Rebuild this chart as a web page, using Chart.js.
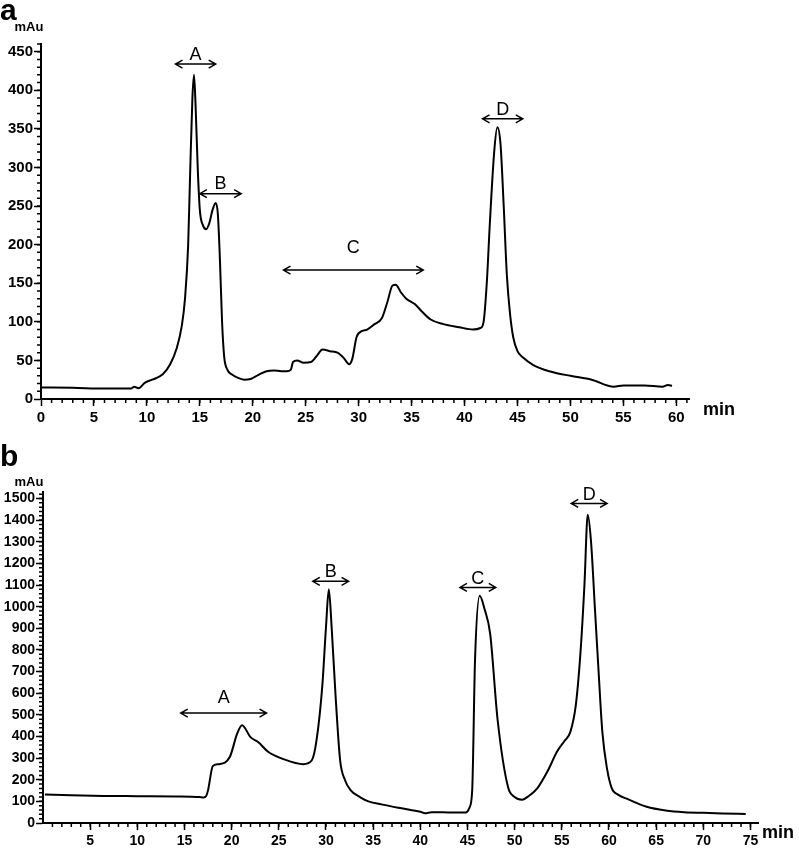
<!DOCTYPE html>
<html>
<head>
<meta charset="utf-8">
<script src="https://cdn.jsdelivr.net/npm/chart.js@4.4.0/dist/chart.umd.min.js"></script>
<style>
  body { margin: 0; background: #fff; }
  .panel { position: absolute; left: 0; width: 799px; }
  #panelA { top: 0; height: 430px; }
  #panelB { top: 430px; height: 421px; }
</style>
</head>
<body>
<div class="panel" id="panelA"><canvas id="chartA"></canvas></div>
<div class="panel" id="panelB"><canvas id="chartB"></canvas></div>
<script>
// Panel a - retention time (min) vs absorbance (mAu)
const timeA = [0, 3, 6, 8.5, 8.8, 9.2, 9.8, 10.5, 11.5, 12.2, 12.8, 13.3, 13.6, 13.9, 14.1, 14.3, 14.45,
    14.6, 14.8, 15.0, 15.3, 15.6, 15.9, 16.2, 16.5, 16.7, 16.9, 17.1, 17.3, 17.6, 18.0, 18.5, 19.2,
    19.8, 20.5, 21.3, 22.0, 22.7, 23.2, 23.6, 23.8, 24.2, 24.8, 25.5, 26.0, 26.6, 27.3, 28.0, 28.6,
    29.1, 29.4, 29.8, 30.3, 30.8, 31.5, 32.2, 32.7, 33.2, 33.5, 34.0, 34.5, 35.3, 36.0, 36.8, 38.0,
    39.5, 40.8, 41.5, 41.8, 42.1, 42.4, 42.8, 43.1, 43.4, 43.7, 44.0, 44.3, 44.6, 45.0, 45.5, 46.5,
    48.0, 50.0, 52.0, 54.1, 55.0, 57.0, 58.7, 59.2, 59.6];
const mauA = [15, 14.5, 13.5, 13.5, 16, 14, 21, 25, 32, 45, 65, 95, 130, 200, 300, 390, 420,
    380, 300, 245, 225, 220, 228, 245, 254, 240, 180, 100, 55, 38, 32, 28, 25,
    26, 31, 36, 37, 36, 36, 38, 48, 50, 47, 48, 55, 64, 62, 60, 53,
    45, 52, 80, 88, 90, 97, 105, 125, 147, 148, 138, 130, 123, 113, 103, 97,
    93, 90, 92, 100, 150, 230, 320, 352, 330, 250, 160, 110, 80, 62, 54, 44,
    36, 30, 25, 16, 17.5, 17.5, 16, 18, 17];
const xTicksA = [0, 5, 10, 15, 20, 25, 30, 35, 40, 45, 50, 55, 60];
const yTicksA = [0, 50, 100, 150, 200, 250, 300, 350, 400, 450];
const peakNamesA = ['A', 'B', 'C', 'D'];
const peakRangesA = [[12.7, 16.5], [15.0, 18.9], [22.9, 36.1], [41.7, 45.5]];
const peakArrowA = [434, 266, 167, 363];
const peakTextA = [446, 278, 196, 375];

// Panel b
const timeB = [0.2, 3, 6.4, 10, 14, 16.6, 17.0, 17.3, 17.5, 18.0, 18.6, 19.8, 20.6, 21.1, 22.0, 22.8,
    23.9, 25.5, 27.6, 28.5, 29.0, 29.6, 30.0, 30.3, 30.6, 31.0, 31.5, 32.0, 32.6, 33.6, 34.5, 36.0,
    38.0, 40.0, 40.5, 41.2, 43.0, 44.8, 45.2, 45.5, 45.8, 46.3, 46.8, 47.4, 48.2, 49.3, 50.0, 50.8,
    51.5, 52.4, 53.5, 54.5, 55.3, 55.9, 56.5, 57.0, 57.4, 57.75, 58.1, 58.5, 58.9, 59.3, 59.8, 60.3,
    61.0, 62.0, 64.0, 66.0, 68.0, 70.0, 72.0, 74.5];
const mauB = [132, 128, 125, 124, 123, 120, 118, 125, 152, 263, 272, 305, 415, 452, 397, 374,
    328, 295, 272, 290, 383, 628, 905, 1080, 905, 600, 290, 200, 152, 120, 100, 85,
    68, 52, 45, 50, 49, 48, 70, 150, 752, 1050, 990, 877, 475, 166, 120, 108,
    125, 160, 240, 330, 380, 420, 550, 800, 1100, 1425, 1300, 1000, 700, 420, 250, 160,
    130, 110, 75, 58, 50, 47, 44, 42];
const xTicksB = [5, 10, 15, 20, 25, 30, 35, 40, 45, 50, 55, 60, 65, 70, 75];
const yTicksB = [0, 100, 200, 300, 400, 500, 600, 700, 800, 900, 1000, 1100, 1200, 1300, 1400, 1500];
const peakNamesB = ['A', 'B', 'C', 'D'];
const peakRangesB = [[14.6, 23.7], [28.6, 32.4], [44.2, 48.0], [56.0, 59.8]];
const peakArrowB = [508, 1117, 1089, 1477];
const peakTextB = [577, 1158, 1126, 1518];

const FONT = "'Liberation Sans', Arial, sans-serif";

// small ticks between the labelled ones
const minorTicks = {
    id: 'minorTicks',
    afterDraw(chart, args, opts) {
        const { ctx, scales: { x, y } } = chart;
        ctx.save();
        ctx.strokeStyle = '#000';
        ctx.lineWidth = 1.5;
        ctx.beginPath();
        for (let i = 1; i * opts.xStep <= x.max; i++) {
            const px = x.getPixelForValue(i * opts.xStep);
            ctx.moveTo(px, y.bottom);
            ctx.lineTo(px, y.bottom + 4);
        }
        for (let i = 1; i * opts.yStep <= y.max; i++) {
            const py = y.getPixelForValue(i * opts.yStep);
            ctx.moveTo(x.left, py);
            ctx.lineTo(x.left - 4, py);
        }
        ctx.stroke();
        ctx.restore();
    }
};

// double headed arrows with peak letters
const peakArrows = {
    id: 'peakArrows',
    afterDatasetsDraw(chart, args, opts) {
        const { ctx, scales: { x, y } } = chart;
        ctx.save();
        ctx.strokeStyle = '#000';
        ctx.fillStyle = '#000';
        ctx.lineWidth = 1.5;
        ctx.font = '18px ' + FONT;
        ctx.textAlign = 'center';
        ctx.textBaseline = 'middle';
        opts.names.forEach((name, i) => {
            const x1 = x.getPixelForValue(opts.ranges[i][0]);
            const x2 = x.getPixelForValue(opts.ranges[i][1]);
            const py = y.getPixelForValue(opts.arrow[i]);
            ctx.beginPath();
            ctx.moveTo(x1, py);
            ctx.lineTo(x2, py);
            ctx.moveTo(x1 + 7, py - 4);
            ctx.lineTo(x1, py);
            ctx.lineTo(x1 + 7, py + 4);
            ctx.moveTo(x2 - 7, py - 4);
            ctx.lineTo(x2, py);
            ctx.lineTo(x2 - 7, py + 4);
            ctx.stroke();
            ctx.fillText(name, (x1 + x2) / 2, y.getPixelForValue(opts.text[i]));
        });
        ctx.restore();
    }
};

// panel letter, unit labels
const panelText = {
    id: 'panelText',
    afterDraw(chart, args, opts) {
        const ctx = chart.ctx;
        ctx.save();
        ctx.fillStyle = '#000';
        ctx.textBaseline = 'middle';
        ctx.textAlign = 'left';
        ctx.font = 'bold 30px ' + FONT;
        ctx.fillText(opts.letter, 0, opts.letterY);
        ctx.font = 'bold 13px ' + FONT;
        ctx.textAlign = 'center';
        ctx.fillText('mAu', 29, opts.unitY);
        ctx.font = 'bold 18px ' + FONT;
        ctx.fillText('min', opts.minX, opts.minY);
        ctx.restore();
    }
};

function buildChart(id, times, values, cfg) {
    const points = times.map((t, i) => ({ x: t, y: values[i] }));
    return new Chart(document.getElementById(id), {
        type: 'line',
        data: {
            datasets: [{
                data: points,
                borderColor: '#000',
                borderWidth: 2,
                pointRadius: 0,
                cubicInterpolationMode: 'monotone',
                fill: false
            }]
        },
        options: {
            responsive: true,
            maintainAspectRatio: false,
            animation: false,
            layout: { padding: cfg.padding },
            plugins: {
                legend: { display: false },
                tooltip: { enabled: false },
                minorTicks: cfg.minor,
                peakArrows: cfg.peaks,
                panelText: cfg.text
            },
            scales: {
                x: {
                    type: 'linear',
                    min: 0,
                    max: cfg.xMax,
                    afterBuildTicks: s => { s.ticks = cfg.xTicks.map(v => ({ value: v })); },
                    afterFit: s => { s.height = cfg.xHeight; },
                    grid: { drawOnChartArea: false, tickLength: 7, tickWidth: 1.5, tickColor: '#000' },
                    border: { display: true, color: '#000', width: 2 },
                    ticks: {
                        autoSkip: false,
                        maxRotation: 0,
                        padding: cfg.xPad,
                        color: '#000',
                        callback: v => String(v),
                        font: { family: FONT, size: cfg.fontSize, weight: 'bold' }
                    }
                },
                y: {
                    min: 0,
                    max: cfg.yMax,
                    afterBuildTicks: s => { s.ticks = cfg.yTicks.map(v => ({ value: v })); },
                    afterFit: s => { s.width = cfg.yWidth; },
                    grid: { drawOnChartArea: false, tickLength: 7, tickWidth: 1.5, tickColor: '#000' },
                    border: { display: true, color: '#000', width: 2 },
                    ticks: {
                        autoSkip: false,
                        padding: 1,
                        color: '#000',
                        callback: v => String(v),
                        font: { family: FONT, size: cfg.fontSize, weight: 'bold' }
                    }
                }
            }
        },
        plugins: [minorTicks, peakArrows, panelText]
    });
}

buildChart('chartA', timeA, mauA, {
    padding: { top: 44, right: 110, bottom: 0, left: 0 },
    xMax: 61.2, yMax: 460,
    xTicks: xTicksA, yTicks: yTicksA,
    xHeight: 31, yWidth: 41, xPad: 3, fontSize: 15,
    minor: { xStep: 1, yStep: 10 },
    peaks: { names: peakNamesA, ranges: peakRangesA, arrow: peakArrowA, text: peakTextA },
    text: { letter: 'a', letterY: 12, unitY: 27, minX: 719, minY: 410 }
});

buildChart('chartB', timeB, mauB, {
    padding: { top: 62, right: 41, bottom: 0, left: 0 },
    xMax: 75.8, yMax: 1530,
    xTicks: xTicksB, yTicks: yTicksB,
    xHeight: 28, yWidth: 43, xPad: 3, fontSize: 14,
    minor: { xStep: 1, yStep: 20 },
    peaks: { names: peakNamesB, ranges: peakRangesB, arrow: peakArrowB, text: peakTextB },
    text: { letter: 'b', letterY: 28, unitY: 52, minX: 778, minY: 403 }
});
</script>
</body>
</html>
